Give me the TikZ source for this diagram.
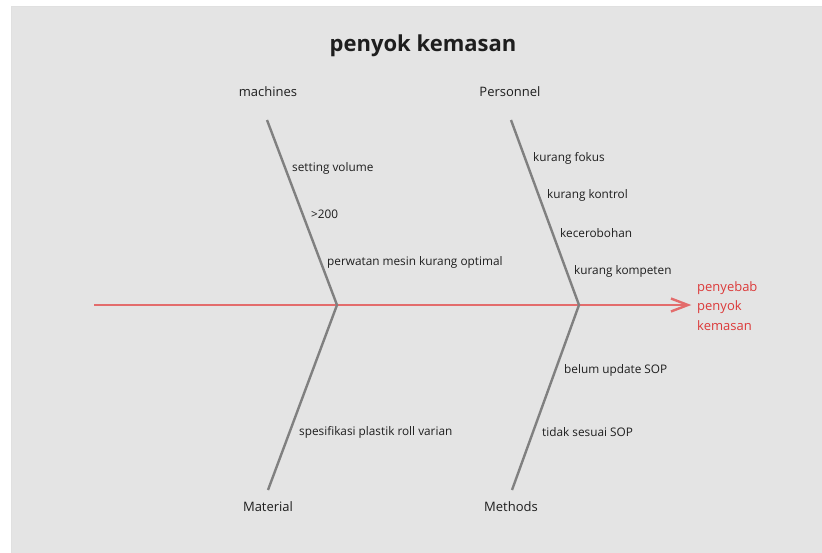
\documentclass[tikz,border=0pt]{standalone}
\usepackage{fontspec}
\setmainfont{Open Sans}
\usetikzlibrary{arrows.meta}
\definecolor{bgc}{HTML}{E4E4E4}
\definecolor{bone}{HTML}{808080}
\definecolor{spinec}{HTML}{E36C6C}
\definecolor{effc}{HTML}{DC3A3A}
\definecolor{txt}{HTML}{1E1E1E}
\tikzset{
  bonel/.style={draw=bone, line width=2.4pt},
  spinel/.style={draw=spinec, line width=2.6pt},
  cat/.style={font=\fontsize{13}{15}\selectfont, text=txt, inner sep=0pt},
  cause/.style={font=\fontsize{11.8}{13}\selectfont, text=txt, anchor=west, inner sep=0pt},
}
\begin{document}
\begin{tikzpicture}[x=1pt,y=-1pt]
\useasboundingbox (0,0) rectangle (822,552);
\fill[white] (0,0) rectangle (822,552);
\filldraw[fill=bgc, draw=black!12, line width=1pt] (11,6) rectangle (830,560);
\node[font=\fontsize{22}{26}\selectfont\bfseries, text=txt] (title) at (423,46) {penyok kemasan};
% spine
\coordinate (s0) at (94,305);
\node[inner sep=0pt] (head) at (692,305) {};
\draw[spinel, -{Straight Barb[length=17pt,width=13pt,line width=2.4pt]}] (s0) -- (head);
\node[font=\fontsize{13}{19.5}\selectfont, text=effc, align=left, anchor=west, inner sep=0pt] (eff) at (697,306) {penyebab\\penyok\\kemasan};
% joints
\coordinate (j1) at (337,305);
\coordinate (j2) at (579,305);
% bones
\coordinate (mt) at (267,120);
\coordinate (mb) at (268,490);
\coordinate (pt) at (511,120);
\coordinate (pb) at (512,490);
\draw[bonel] (mt) -- (j1) -- (mb);
\draw[bonel] (pt) -- (j2) -- (pb);
% categories
\node[cat] (machines) at (268,92) {machines};
\node[cat] (personnel) at (510,92) {Personnel};
\node[cat] (material) at (268,507) {Material};
\node[cat] (methods) at (511,507) {Methods};
% causes
\node[cause] (c1) at (292,168) {setting volume};
\node[cause] (c2) at (311,214) {>200};
\node[cause] (c3) at (327,262) {perwatan mesin kurang optimal};
\node[cause] (c4) at (299,432) {spesifikasi plastik roll varian};
\node[cause] (c5) at (533,158) {kurang fokus};
\node[cause] (c6) at (547,195) {kurang kontrol};
\node[cause] (c7) at (560,233) {kecerobohan};
\node[cause] (c8) at (574,271) {kurang kompeten};
\node[cause] (c9) at (564,370) {belum update SOP};
\node[cause] (c10) at (542,432) {tidak sesuai SOP};
\end{tikzpicture}
\end{document}
